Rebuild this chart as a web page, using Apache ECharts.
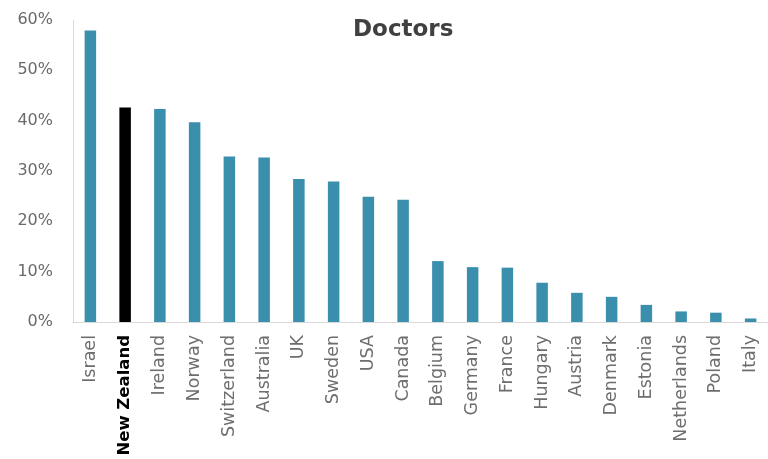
<!DOCTYPE html>
<html>
<head>
<meta charset="utf-8">
<script src="https://cdn.jsdelivr.net/npm/echarts@6/dist/echarts.min.js"></script>
<style>
html,body{margin:0;padding:0;background:#fff;}
#chart{width:768px;height:459px;}
</style>
</head>
<body>
<div id="chart"></div>
<script>
const title = 'Doctors';
const categories = ['Israel','New Zealand','Ireland','Norway','Switzerland','Australia','UK','Sweden','USA','Canada','Belgium','Germany','France','Hungary','Austria','Denmark','Estonia','Netherlands','Poland','Italy'];
const values = [57.9, 42.6, 42.3, 39.7, 32.9, 32.7, 28.4, 27.9, 24.9, 24.3, 12.1, 10.9, 10.8, 7.8, 5.8, 5.0, 3.4, 2.1, 1.85, 0.7];
const highlighted = 'New Zealand';
const yTicks = [0, 10, 20, 30, 40, 50, 60];

const font = 'DejaVu Sans';
const chart = echarts.init(document.getElementById('chart'));
chart.setOption({
  animation: false,
  backgroundColor: '#ffffff',
  title: {
    text: title, left: 348, top: 14,
    textStyle: {fontFamily: font, fontSize: 23, fontWeight: 'bold', color: '#404040'}
  },
  grid: {left: 73, top: 20, width: 700, bottom: 137},
  xAxis: {
    type: 'category',
    data: categories.map(c => c === highlighted
      ? {value: c, textStyle: {fontWeight: 'bold', color: '#000000', fontSize: 16.5}}
      : c),
    axisLine: {lineStyle: {color: '#d9d9d9', width: 1}},
    axisTick: {show: false},
    axisLabel: {rotate: 90, interval: 0, margin: 13, fontFamily: font, fontSize: 17.5, color: '#6e6e6e'}
  },
  yAxis: {
    type: 'value', min: yTicks[0], max: yTicks[yTicks.length - 1], interval: 10,
    axisLine: {show: true, lineStyle: {color: '#d9d9d9', width: 1}},
    axisTick: {show: false},
    splitLine: {show: false},
    axisLabel: {formatter: '{value}%', margin: 20, fontFamily: font, fontSize: 16, color: '#6a6a6a'}
  },
  series: [{
    type: 'bar',
    barWidth: 11.5,
    data: values.map((v, i) => ({
      value: v,
      itemStyle: {color: categories[i] === highlighted ? '#000000' : '#3a8fad'}
    }))
  }]
});
</script>
</body>
</html>
